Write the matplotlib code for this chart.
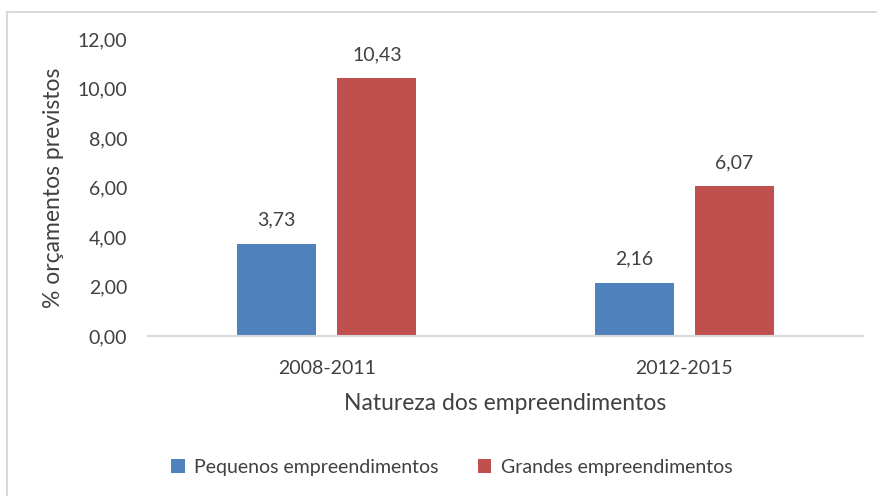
import matplotlib.pyplot as plt
from matplotlib.patches import Rectangle
import numpy as np

plt.rcParams['font.family'] = ['Lato', 'DejaVu Sans']

periods = ['2008-2011', '2012-2015']
series_names = ['Pequenos empreendimentos', 'Grandes empreendimentos']
pequenos = [3.73, 2.16]
grandes = [10.43, 6.07]
y_ticks = [0, 2, 4, 6, 8, 10, 12]

colors = ['#4F81BD', '#C0504D']
text_col = '#404040'

W, H = 877, 496
fig = plt.figure(figsize=(W / 100, H / 100), dpi=100)

# chart border (only top/left visible, the rest is cropped off)
fig.patches.append(Rectangle((7 / W, -0.1), 1.2, (H - 12) / H + 0.1, transform=fig.transFigure,
                             fill=False, edgecolor='#d9d9d9', linewidth=1.5))

ax = fig.add_axes([148 / W, 1 - 336 / H, (863 - 148) / W, (336 - 39) / H])

x = np.arange(len(periods))
bw = 0.22
off = 0.14
b1 = ax.bar(x - off, pequenos, bw, color=colors[0], label=series_names[0])
b2 = ax.bar(x + off, grandes, bw, color=colors[1], label=series_names[1])

for bars, vals in [(b1, pequenos), (b2, grandes)]:
    for b, v in zip(bars, vals):
        ax.text(b.get_x() + b.get_width() / 2, v + 0.6, f'{v:.2f}'.replace('.', ','),
                ha='center', va='bottom', fontsize=14, color=text_col)

ax.set_xlim(-0.5, 1.5)
ax.set_ylim(0, 12)
ax.set_yticks(y_ticks)
ax.set_yticklabels([f'{t:.2f}'.replace('.', ',') for t in y_ticks], fontsize=14, color=text_col)
ax.set_xticks(x)
ax.set_xticklabels(periods, fontsize=14, color=text_col)
ax.tick_params(axis='both', length=0)
ax.tick_params(axis='y', pad=15)
ax.tick_params(axis='x', pad=17)

for s in ['top', 'right', 'left']:
    ax.spines[s].set_visible(False)
ax.spines['bottom'].set_color('#d9d9d9')
ax.spines['bottom'].set_linewidth(1.5)

ax.set_xlabel('Natureza dos empreendimentos', fontsize=16.5, color=text_col, labelpad=12)
ax.set_ylabel('% orçamentos previstos', fontsize=16.5, color=text_col, labelpad=10)

fig.legend(handles=[b1, b2], labels=series_names, loc='center', bbox_to_anchor=(452 / W, 1 - 467 / H),
           ncol=2, frameon=False, fontsize=14, labelcolor=text_col, handlelength=0.7, handleheight=0.7,
           handletextpad=0.5, columnspacing=2.0)

fig.savefig('out.png', dpi=100)
